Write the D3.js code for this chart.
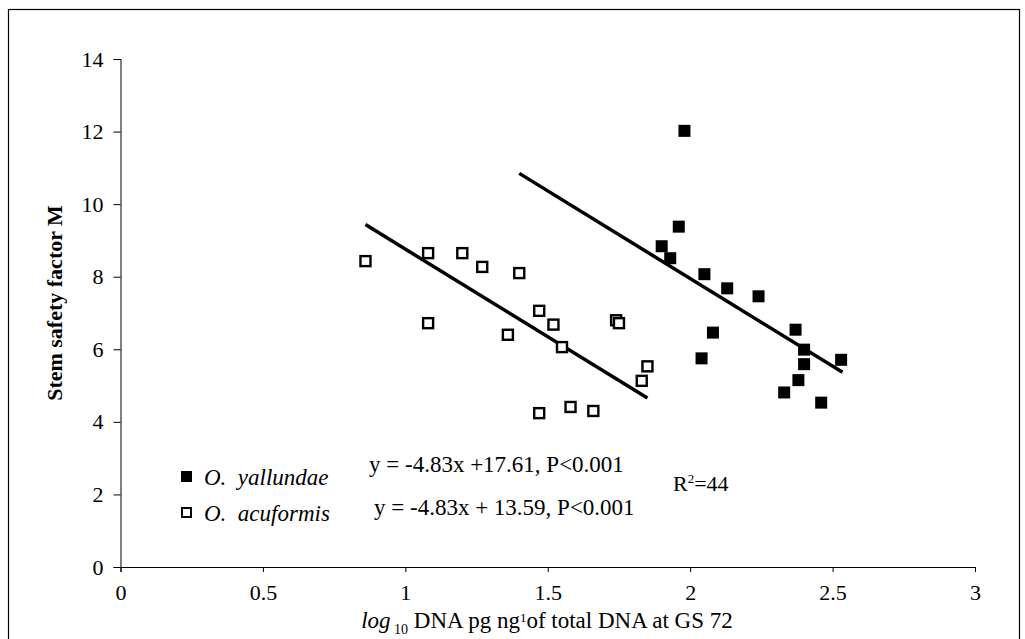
<!DOCTYPE html>
<html>
<head>
<meta charset="utf-8">
<script src="https://cdn.jsdelivr.net/npm/d3@7"></script>
<style>
  body { margin: 0; background: #fff; }
  svg text { font-family: "Liberation Serif", "Times New Roman", serif; fill: #000; }
  .axis path, .axis line { stroke: #000; stroke-width: 1; }
  .axis text { font-size: 22px; }
</style>
</head>
<body>
<div id="chart"></div>
<script>
//////////////////////////////////////////////////////////////////////////////
// Data

// O. acuformis (open squares)
var acuX = [0.86, 1.08, 1.08, 1.20, 1.27, 1.36, 1.40, 1.47, 1.47, 1.52, 1.55, 1.58, 1.66, 1.74, 1.75, 1.83, 1.85];
var acuY = [8.43, 8.65, 6.72, 8.65, 8.27, 6.40, 8.10, 7.06, 4.24, 6.68, 6.06, 4.41, 4.30, 6.80, 6.72, 5.13, 5.53];

// O. yallundae (filled squares)
var yalX = [1.98, 1.96, 1.90, 1.93, 2.05, 2.13, 2.24, 2.08, 2.04, 2.37, 2.40, 2.40, 2.53, 2.38, 2.33, 2.46];
var yalY = [12.02, 9.38, 8.84, 8.51, 8.07, 7.68, 7.46, 6.46, 5.75, 6.54, 5.99, 5.59, 5.71, 5.15, 4.81, 4.53];

// fitted lines: slope, intercept, x extent
var fitSlope = -4.83;
var yalIntercept = 17.61, yalFitX = [1.40, 2.535];
var acuIntercept = 13.59, acuFitX = [0.86, 1.85];

var xTicks = [0, 0.5, 1, 1.5, 2, 2.5, 3];
var yTicks = [0, 2, 4, 6, 8, 10, 12, 14];

//////////////////////////////////////////////////////////////////////////////

var width = 1025, height = 639;

var xScale = d3.scaleLinear().domain([0, 3]).range([120.5, 975]);
var yScale = d3.scaleLinear().domain([0, 14]).range([567, 59]);

var svg = d3.select("#chart")
    .append("svg")
    .attr("width", width)
    .attr("height", height);

// frame
svg.append("rect")
    .attr("x", 8.5).attr("y", 9.5)
    .attr("width", 1011).attr("height", 660)
    .attr("fill", "none")
    .attr("stroke", "#000")
    .attr("stroke-width", 1.2);

// axes
svg.append("g")
    .attr("class", "axis")
    .attr("transform", "translate(0," + yScale(0) + ")")
    .call(d3.axisBottom(xScale).tickValues(xTicks).tickSize(5).tickSizeOuter(5).tickPadding(12)
          .tickFormat(function(d) { return String(d); }));

svg.append("g")
    .attr("class", "axis")
    .attr("transform", "translate(" + xScale(0) + ",0)")
    .call(d3.axisLeft(yScale).tickValues(yTicks).tickSize(7).tickSizeOuter(7).tickPadding(10)
          .tickFormat(function(d) { return String(d); }));

// regression lines
function fitLine(intercept, ext) {
    return ext.map(function(x) { return [x, fitSlope * x + intercept]; });
}
var line = d3.line()
    .x(function(d) { return xScale(d[0]); })
    .y(function(d) { return yScale(d[1]); });

svg.append("path")
    .attr("d", line(fitLine(yalIntercept, yalFitX)))
    .attr("stroke", "#000").attr("stroke-width", 3.5).attr("fill", "none");

svg.append("path")
    .attr("d", line(fitLine(acuIntercept, acuFitX)))
    .attr("stroke", "#000").attr("stroke-width", 3.5).attr("fill", "none");

// points
var openSize = 10, fillSize = 12;

svg.append("g")
    .selectAll("rect")
    .data(d3.range(acuX.length))
    .enter()
    .append("rect")
    .attr("x", function(i) { return xScale(acuX[i]) - openSize / 2; })
    .attr("y", function(i) { return yScale(acuY[i]) - openSize / 2; })
    .attr("width", openSize)
    .attr("height", openSize)
    .attr("fill", "#fff")
    .attr("stroke", "#000")
    .attr("stroke-width", 2.4);

svg.append("g")
    .selectAll("rect")
    .data(d3.range(yalX.length))
    .enter()
    .append("rect")
    .attr("x", function(i) { return xScale(yalX[i]) - fillSize / 2; })
    .attr("y", function(i) { return yScale(yalY[i]) - fillSize / 2; })
    .attr("width", fillSize)
    .attr("height", fillSize)
    .attr("fill", "#000");

// legend
svg.append("rect")
    .attr("x", 181).attr("y", 471).attr("width", 11).attr("height", 11)
    .attr("fill", "#000");
svg.append("rect")
    .attr("x", 182).attr("y", 508).attr("width", 9).attr("height", 9)
    .attr("fill", "#fff").attr("stroke", "#000").attr("stroke-width", 2);

svg.append("text")
    .attr("x", 204).attr("y", 485)
    .style("font-size", "23px").style("font-style", "italic")
    .attr("xml:space", "preserve")
    .text("O.  yallundae");
svg.append("text")
    .attr("x", 204).attr("y", 521)
    .style("font-size", "23px").style("font-style", "italic")
    .attr("xml:space", "preserve")
    .text("O.  acuformis");

svg.append("text")
    .attr("x", 369).attr("y", 472)
    .style("font-size", "23px")
    .text("y = -4.83x +17.61, P<0.001");
svg.append("text")
    .attr("x", 374).attr("y", 515)
    .style("font-size", "23px")
    .text("y = -4.83x + 13.59, P<0.001");

var r2 = svg.append("text")
    .attr("x", 673).attr("y", 491)
    .style("font-size", "22px");
r2.append("tspan").text("R");
r2.append("tspan").attr("dy", -8).style("font-size", "13px").text("2");
r2.append("tspan").attr("dy", 8).text("=44");

// axis titles
svg.append("text")
    .attr("transform", "translate(62,303) rotate(-90)")
    .attr("text-anchor", "middle")
    .style("font-size", "22px").style("font-weight", "bold")
    .text("Stem safety factor M");

var xt = svg.append("text")
    .attr("x", 547).attr("y", 628)
    .attr("text-anchor", "middle")
    .style("font-size", "23px");
xt.append("tspan").style("font-style", "italic").text("log");
xt.append("tspan").attr("dy", 6).style("font-size", "14px").text(" 10");
xt.append("tspan").attr("dy", -6).text(" DNA pg ng");
xt.append("tspan").attr("dy", -6).style("font-size", "13px").text("1");
xt.append("tspan").attr("dy", 6).text("of total DNA at GS 72");
</script>
</body>
</html>
